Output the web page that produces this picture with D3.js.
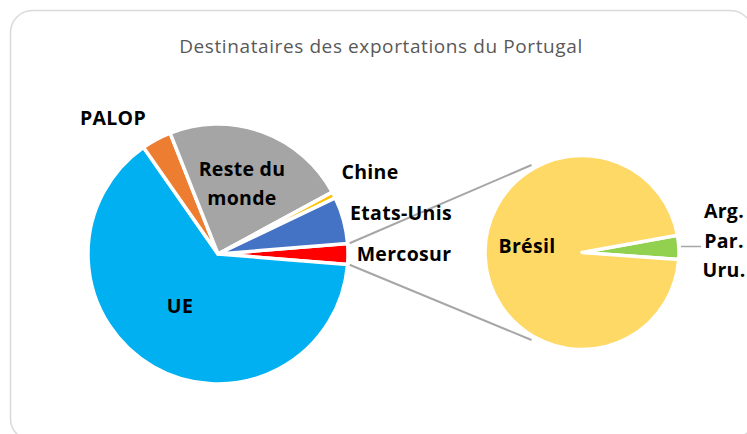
<!DOCTYPE html>
<html>
<head>
<meta charset="utf-8">
<script src="https://cdn.jsdelivr.net/npm/d3@7"></script>
<style>
  html, body { margin: 0; padding: 0; background: #fff; }
  svg { display: block; }
  text { font-family: "Open Sans", Lato, sans-serif; }
</style>
</head>
<body>
<svg id="chart" width="747" height="434"></svg>
<script>
// ---- data ----
const title = "Destinataires des exportations du Portugal";
const mainCategories = ["Mercosur", "UE", "PALOP", "Reste du monde", "Chine", "Etats-Unis"];
const mainValues = [2.6, 64.0, 3.7, 23.1, 0.8, 5.8];
const mainColors = ["#ff0000", "#00b0f0", "#ed7d31", "#a5a5a5", "#ffc000", "#4472c4"];
const subCategories = ["Arg. Par. Uru.", "Brésil"];
const subValues = [4, 96];
const subColors = ["#92d050", "#ffd966"];

// ---- layout ----
const svg = d3.select("#chart");

// frame
svg.append("rect")
  .attr("x", 10.5).attr("y", 10.5)
  .attr("width", 742).attr("height", 430)
  .attr("rx", 22).attr("ry", 22)
  .attr("fill", "#fff")
  .attr("stroke", "#d9d9d9").attr("stroke-width", 1.5);

svg.append("text")
  .attr("x", 381).attr("y", 53)
  .attr("text-anchor", "middle")
  .attr("font-size", 19)
  .attr("letter-spacing", 0.6)
  .attr("fill", "#595959")
  .text(title);

const c1 = [218, 254], r1 = 130;
const c2 = [582, 252.5], r2 = 97;

const mainData = mainCategories.map((k, i) => ({ key: k, value: mainValues[i], color: mainColors[i] }));
const subData = subCategories.map((k, i) => ({ key: k, value: subValues[i], color: subColors[i] }));

const mainTotal = d3.sum(mainValues);
const mStart = Math.PI / 2 - (mainValues[0] / mainTotal) * Math.PI;
const pie1 = d3.pie().sort(null).value(d => d.value)
  .startAngle(mStart).endAngle(mStart + 2 * Math.PI);
const arcs1 = pie1(mainData);

const subTotal = d3.sum(subValues);
const sCenter = 87 * Math.PI / 180;
const sStart = sCenter - (subValues[0] / subTotal) * Math.PI;
const pie2 = d3.pie().sort(null).value(d => d.value)
  .startAngle(sStart).endAngle(sStart + 2 * Math.PI);
const arcs2 = pie2(subData);

const arc1 = d3.arc().innerRadius(0).outerRadius(r1);
const arc2 = d3.arc().innerRadius(0).outerRadius(r2);

// connector lines (from the Mercosur slice edges to the secondary pie)
const mer = arcs1[0];
function pt(c, r, a) { return [c[0] + r * Math.sin(a), c[1] - r * Math.cos(a)]; }
const tA = pt(c1, r1 + 2, mer.startAngle), bA = pt(c1, r1 + 2, mer.endAngle);
const p2top = pt(c2, r2 + 4, -Math.PI / 6);
const p2bot = pt(c2, r2 + 4, -5 * Math.PI / 6);
const connectors = [[tA, p2top], [bA, p2bot]];
svg.append("g").selectAll("line").data(connectors).join("line")
  .attr("x1", d => d[0][0]).attr("y1", d => d[0][1])
  .attr("x2", d => d[1][0]).attr("y2", d => d[1][1])
  .attr("stroke", "#a6a6a6").attr("stroke-width", 2);

// main pie
svg.append("g").attr("transform", `translate(${c1})`)
  .selectAll("path").data(arcs1).join("path")
  .attr("d", arc1)
  .attr("fill", d => d.data.color)
  .attr("stroke", "#fff").attr("stroke-width", 3.5).attr("stroke-linejoin", "round");

// secondary pie
svg.append("g").attr("transform", `translate(${c2})`)
  .selectAll("path").data(arcs2).join("path")
  .attr("d", arc2)
  .attr("fill", d => d.data.color)
  .attr("stroke", "#fff").attr("stroke-width", 3.5).attr("stroke-linejoin", "round");

// leader line for Arg./Par./Uru.
svg.append("line")
  .attr("x1", 681).attr("y1", 246.5).attr("x2", 701).attr("y2", 246.5)
  .attr("stroke", "#a6a6a6").attr("stroke-width", 1.5);

// labels
const labels = [
  { lines: ["PALOP"], x: 113, y: 125 },
  { lines: ["Reste du", "monde"], x: 242, y: 176, dy: 29 },
  { lines: ["Chine"], x: 370, y: 179 },
  { lines: ["Etats-Unis"], x: 401, y: 220 },
  { lines: ["Mercosur"], x: 404, y: 261 },
  { lines: ["UE"], x: 180, y: 313 },
  { lines: ["Brésil"], x: 527, y: 253 },
  { lines: ["Arg.", "Par.", "Uru."], x: 724, y: 218, dy: 29.5 }
];
const lg = svg.append("g");
labels.forEach(l => {
  const t = lg.append("text")
    .attr("x", l.x).attr("y", l.y)
    .attr("text-anchor", "middle")
    .attr("font-size", 19.5).attr("font-weight", "bold")
    .attr("letter-spacing", 0.3)
    .attr("fill", "#000");
  l.lines.forEach((s, i) => {
    t.append("tspan").attr("x", l.x).attr("dy", i === 0 ? 0 : (l.dy || 22)).text(s);
  });
});
</script>
</body>
</html>
